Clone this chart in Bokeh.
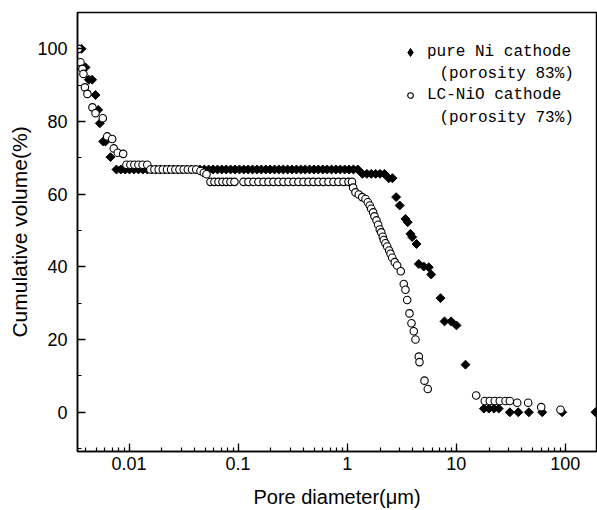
import math
from bokeh.plotting import figure
from bokeh.models import (Range1d, SingleIntervalTicker, LogTicker, CustomJSTickFormatter,
                          Legend, LegendItem, Label)
from bokeh.embed import file_html
from bokeh.resources import INLINE

# ---- data: pure Ni cathode (filled diamonds) ----
ni_d = [0.00367, 0.00399, 0.00428, 0.00459, 0.00493, 0.00522, 0.00540, 0.00580, 0.00608, 0.00676,
        0.00767, 0.00842, 0.00923, 0.0101, 0.0111, 0.0122, 0.0134, 0.0147, 0.0161, 0.0177,
        0.0194, 0.0213, 0.0233, 0.0256, 0.0281, 0.0308, 0.0338, 0.0371, 0.0407, 0.0446,
        0.0490, 0.0537, 0.0589, 0.0647, 0.0709, 0.0778, 0.0854, 0.0937, 0.1028, 0.1127,
        0.1237, 0.1357, 0.1488, 0.1633, 0.1791, 0.1965, 0.2156, 0.2365, 0.2594, 0.2846,
        0.3122, 0.3425, 0.3757, 0.4122, 0.4521, 0.4960, 0.5441, 0.5969, 0.6548, 0.7183,
        0.7880, 0.8644, 0.9483, 1.040, 1.141, 1.252,
        1.38, 1.515, 1.662, 1.823, 2.00, 2.195,
        2.41, 2.60,
        2.81, 3.03, 3.42, 3.59, 3.80, 3.94, 4.32, 4.53, 5.03, 5.60, 5.89,
        7.17, 7.80, 8.98, 10.05, 12.15,
        17.9, 19.9, 22.1, 24.5, 31.0, 37.0, 46.3, 61.4, 93.5, 189.0]
ni_v = [100.0, 94.9, 91.5, 91.5, 87.3, 83.2, 79.5, 74.5, 74.5, 70.2,
        66.8, 66.8, 66.8, 66.8, 66.8, 66.8, 66.8, 66.8, 66.8, 66.8,
        66.8, 66.8, 66.8, 66.8, 66.8, 66.8, 66.8, 66.8, 66.8, 66.8,
        66.8, 66.8, 66.8, 66.8, 66.8, 66.8, 66.8, 66.8, 66.8, 66.8,
        66.8, 66.8, 66.8, 66.8, 66.8, 66.8, 66.8, 66.8, 66.8, 66.8,
        66.8, 66.8, 66.8, 66.8, 66.8, 66.8, 66.8, 66.8, 66.8, 66.8,
        66.8, 66.8, 66.8, 66.8, 66.8, 66.8,
        65.6, 65.6, 65.6, 65.6, 65.6, 65.6,
        64.4, 64.4,
        59.2, 56.9, 53.2, 52.3, 49.1, 48.2, 46.3, 40.8, 40.1, 39.9, 37.9,
        31.4, 25.0, 25.0, 23.9, 13.1,
        1.0, 1.0, 1.0, 1.0, 0.0, 0.0, 0.0, 0.0, 0.0, 0.0]

# ---- data: LC-NiO cathode (open circles) ----
lc_d = [0.00344, 0.00359, 0.00374, 0.00382, 0.00394, 0.00416, 0.00462, 0.00493, 0.00575, 0.00631,
        0.00701, 0.00725, 0.00788, 0.00884,
        0.00947, 0.0103, 0.0112, 0.0122, 0.0133, 0.0147,
        0.0157, 0.0171, 0.0187, 0.0204, 0.0223, 0.0243, 0.0266, 0.0290, 0.0317, 0.0346,
        0.0378, 0.0413, 0.0452, 0.0485, 0.0513,
        0.0558, 0.0607, 0.0661, 0.0719, 0.0782, 0.0851, 0.0926,
        0.1120, 0.1245, 0.1384, 0.1537, 0.1709, 0.1899, 0.2110, 0.2345, 0.2606, 0.2896,
        0.3219, 0.3577, 0.3975, 0.4417, 0.4909, 0.5455, 0.6062, 0.6737, 0.7487, 0.8321,
        0.9249, 1.028, 1.107,
        1.135, 1.191, 1.277, 1.373, 1.472, 1.545, 1.611, 1.660, 1.731, 1.780,
        1.856, 1.924, 1.990, 2.050, 2.120, 2.165, 2.244, 2.326, 2.427, 2.495,
        2.586, 2.732, 2.873, 3.100, 3.303, 3.423, 3.548, 3.726, 3.886, 4.079,
        4.229, 4.534, 4.601, 5.113, 5.482,
        15.23, 18.26, 20.29, 22.55, 25.06, 28.27, 30.95, 36.19, 45.64, 60.05, 90.25]
lc_v = [100.0, 96.3, 94.5, 93.1, 89.4, 87.6, 83.9, 82.3, 80.9, 75.9,
        75.2, 72.6, 71.4, 71.1,
        68.1, 68.1, 68.1, 68.1, 68.1, 68.1,
        66.8, 66.8, 66.8, 66.8, 66.8, 66.8, 66.8, 66.8, 66.8, 66.8,
        66.8, 66.8, 66.4, 65.9, 65.5,
        63.4, 63.4, 63.4, 63.4, 63.4, 63.4, 63.4,
        63.4, 63.4, 63.4, 63.4, 63.4, 63.4, 63.4, 63.4, 63.4, 63.4,
        63.4, 63.4, 63.4, 63.4, 63.4, 63.4, 63.4, 63.4, 63.4, 63.4,
        63.4, 63.4, 63.4,
        61.8, 60.5, 59.9, 59.2, 58.7, 57.8, 56.9, 56.0, 55.0, 53.9,
        52.8, 51.6, 50.3, 49.5, 48.3, 47.4, 46.5, 45.6, 44.5, 43.6,
        42.5, 41.3, 40.4, 38.8, 35.3, 33.7, 30.9, 27.2, 24.5, 22.3,
        20.0, 15.3, 13.8, 8.7, 6.4,
        4.6, 3.1, 3.1, 3.1, 3.1, 3.1, 3.1, 2.6, 2.6, 1.4, 0.7]

series_labels = ["pure Ni cathode", "LC-NiO cathode"]
porosity_labels = ["(porosity 83%)", "(porosity 73%)"]
y_ticks_interval = 20

SANS = "Liberation Sans"
MONO = "Liberation Mono"

p = figure(width=597, height=510, x_axis_type="log",
           x_range=Range1d(0.00337, 193), y_range=Range1d(-10.8, 110),
           output_backend="svg", toolbar_location=None,
           min_border_left=77, min_border_right=1, min_border_top=12, min_border_bottom=59)

p.background_fill_color = "white"
p.border_fill_color = "white"
p.outline_line_color = "black"
p.outline_line_width = 1.5
p.xgrid.visible = False
p.ygrid.visible = False

ni = p.scatter(ni_d, ni_v, marker="square", angle=math.pi / 4, size=6.3,
               fill_color="black", line_color="black", line_width=1)
lc = p.scatter(lc_d, lc_v, marker="circle", size=7.5, fill_color="white",
               line_color="black", line_width=1.1)
# hidden renderer, only used so that the legend shows a diamond key
ni_key = p.scatter(ni_d, ni_v, marker="diamond", size=8, fill_color="black",
                   line_color="black", visible=False)

# axes
p.xaxis.ticker = LogTicker(num_minor_ticks=10)
p.xaxis.formatter = CustomJSTickFormatter(
    code="return tick >= 1 ? tick.toFixed(0) : String(parseFloat(tick.toPrecision(3)));")
p.yaxis.ticker = SingleIntervalTicker(interval=y_ticks_interval, num_minor_ticks=2)

for ax in (p.xaxis[0], p.yaxis[0]):
    ax.axis_line_width = 1.5
    ax.axis_line_color = "black"
    ax.major_tick_in = 8
    ax.major_tick_out = 0
    ax.minor_tick_in = 4
    ax.minor_tick_out = 0
    ax.major_tick_line_width = 1.3
    ax.minor_tick_line_width = 1.2
    ax.major_label_text_font = SANS
    ax.major_label_text_font_size = "18px"
    ax.major_label_text_color = "black"
    ax.axis_label_text_font = SANS
    ax.axis_label_text_font_style = "normal"
    ax.axis_label_text_color = "black"

p.xaxis.axis_label = "Pore diameter(\u03bcm)"
p.yaxis.axis_label = "Cumulative volume(%)"
p.xaxis.axis_label_text_font_size = "20px"
p.yaxis.axis_label_text_font_size = "21px"
p.xaxis.major_label_standoff = 5
p.xaxis.axis_label_standoff = 13
p.yaxis.major_label_standoff = 10
p.yaxis.axis_label_standoff = 3

legend_style = dict(label_text_font=MONO, label_text_font_size="16px", label_text_color="black",
                    glyph_height=22, label_height=22, padding=0, margin=0,
                    border_line_alpha=0, background_fill_alpha=0,
                    inactive_fill_alpha=0)
leg1 = Legend(items=[LegendItem(label=series_labels[0], renderers=[ni_key])],
              location=(323, 388), glyph_width=20, label_standoff=7, **legend_style)
leg2 = Legend(items=[LegendItem(label=series_labels[1], renderers=[lc])],
              location=(326, 345), glyph_width=14, label_standoff=10, **legend_style)
p.add_layout(leg1)
p.add_layout(leg2)

for txt, yy in zip(porosity_labels, (378, 334)):
    p.add_layout(Label(x=362, y=yy, x_units="screen", y_units="screen", text=txt,
                       text_font=MONO, text_font_size="16px", text_color="black",
                       text_baseline="middle"))

open("out.html", "w").write(file_html(p, INLINE))
